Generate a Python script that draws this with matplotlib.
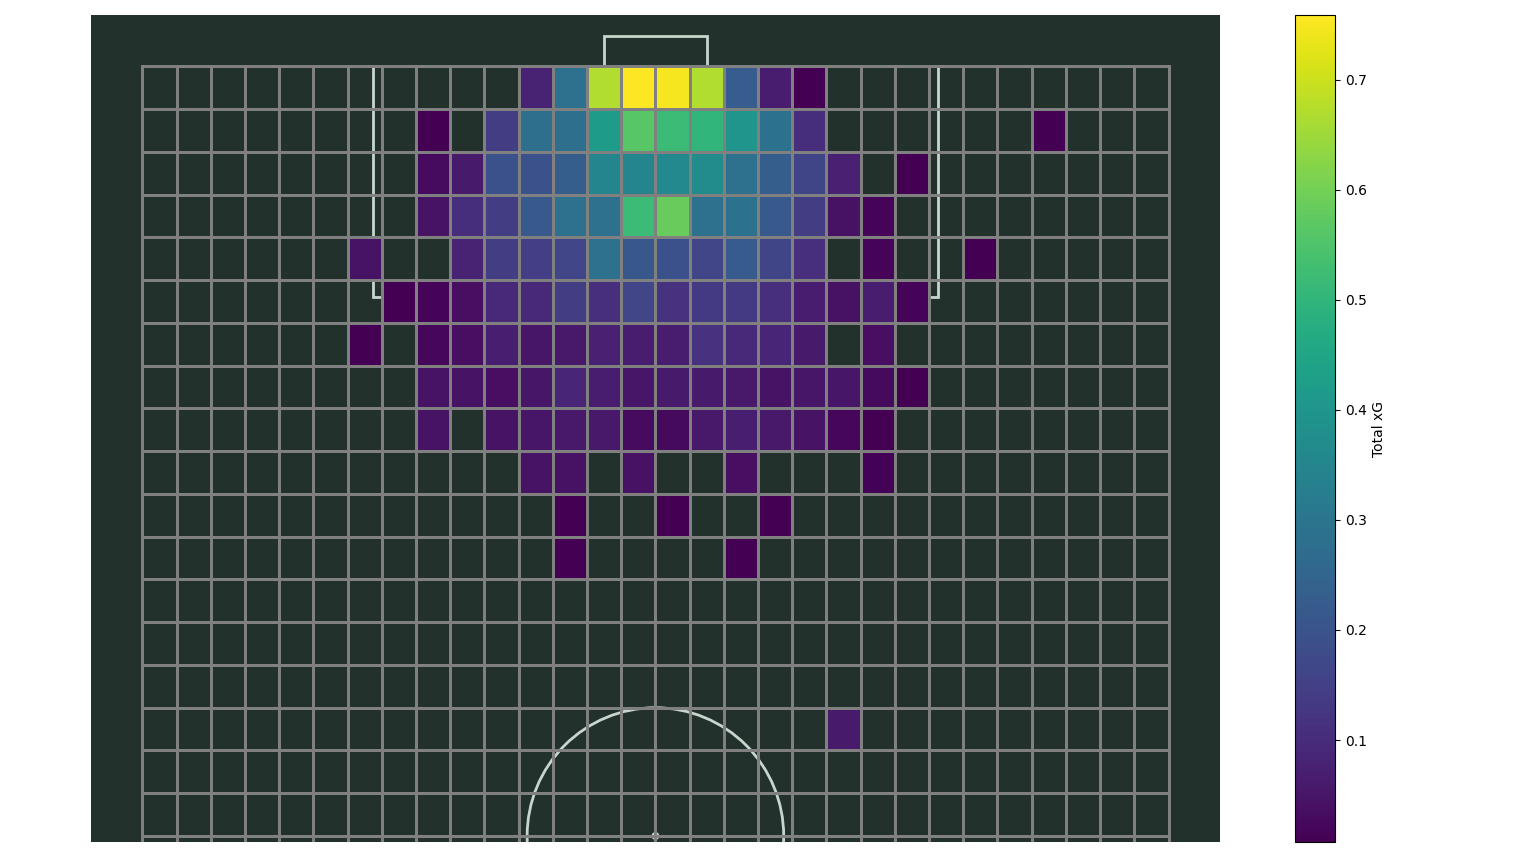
import numpy as np
import matplotlib.pyplot as plt
from matplotlib.patches import Rectangle, Circle, Arc

# Celdas con xG (fila 0 = junto a la porteria, columna 0 = banda izquierda)
cell_row = [0, 0, 0, 0, 0, 0, 0, 0, 0,
            1, 1, 1, 1, 1, 1, 1, 1, 1, 1, 1, 1,
            2, 2, 2, 2, 2, 2, 2, 2, 2, 2, 2, 2, 2, 2,
            3, 3, 3, 3, 3, 3, 3, 3, 3, 3, 3, 3, 3, 3,
            4, 4, 4, 4, 4, 4, 4, 4, 4, 4, 4, 4, 4, 4,
            5, 5, 5, 5, 5, 5, 5, 5, 5, 5, 5, 5, 5, 5, 5, 5,
            6, 6, 6, 6, 6, 6, 6, 6, 6, 6, 6, 6, 6, 6,
            7, 7, 7, 7, 7, 7, 7, 7, 7, 7, 7, 7, 7, 7, 7,
            8, 8, 8, 8, 8, 8, 8, 8, 8, 8, 8, 8, 8,
            9, 9, 9, 9, 9,
            10, 10, 10,
            11, 11,
            15]
cell_col = [11, 12, 13, 14, 15, 16, 17, 18, 19,
            8, 10, 11, 12, 13, 14, 15, 16, 17, 18, 19, 26,
            8, 9, 10, 11, 12, 13, 14, 15, 16, 17, 18, 19, 20, 22,
            8, 9, 10, 11, 12, 13, 14, 15, 16, 17, 18, 19, 20, 21,
            6, 9, 10, 11, 12, 13, 14, 15, 16, 17, 18, 19, 21, 24,
            7, 8, 9, 10, 11, 12, 13, 14, 15, 16, 17, 18, 19, 20, 21, 22,
            6, 8, 9, 10, 11, 12, 13, 14, 15, 16, 17, 18, 19, 21,
            8, 9, 10, 11, 12, 13, 14, 15, 16, 17, 18, 19, 20, 21, 22,
            8, 10, 11, 12, 13, 14, 15, 16, 17, 18, 19, 20, 21,
            11, 12, 14, 17, 21,
            12, 15, 18,
            12, 17,
            20]
cell_xg = [0.08, 0.285, 0.67, 0.759, 0.75, 0.67, 0.225, 0.065, 0.01,
           0.01, 0.14, 0.28, 0.28, 0.42, 0.56, 0.52, 0.50, 0.40, 0.29, 0.105, 0.01,
           0.03, 0.06, 0.195, 0.195, 0.23, 0.35, 0.35, 0.36, 0.37, 0.285, 0.23, 0.16, 0.075, 0.01,
           0.045, 0.105, 0.14, 0.215, 0.285, 0.285, 0.52, 0.585, 0.285, 0.29, 0.215, 0.14, 0.04, 0.015,
           0.045, 0.08, 0.14, 0.145, 0.165, 0.285, 0.21, 0.195, 0.165, 0.22, 0.16, 0.11, 0.015, 0.01,
           0.01, 0.015, 0.035, 0.095, 0.095, 0.14, 0.11, 0.165, 0.115, 0.135, 0.135, 0.11, 0.065, 0.04, 0.065, 0.015,
           0.0073, 0.02, 0.035, 0.07, 0.05, 0.055, 0.075, 0.065, 0.065, 0.115, 0.09, 0.085, 0.06, 0.035,
           0.045, 0.045, 0.035, 0.05, 0.085, 0.065, 0.05, 0.06, 0.06, 0.055, 0.045, 0.05, 0.05, 0.025, 0.01,
           0.045, 0.045, 0.05, 0.055, 0.055, 0.03, 0.025, 0.055, 0.07, 0.055, 0.045, 0.02, 0.01,
           0.045, 0.04, 0.04, 0.035, 0.012,
           0.01, 0.01, 0.01,
           0.01, 0.01,
           0.06]

# Campo tipo StatsBomb (120 x 80), 36 x 30 celdas
PITCH_LEN, PITCH_WID = 120, 80
N_ROWS, N_COLS = 36, 30
BG = '#22312b'
LINE = '#c7d5cc'


def draw_half_pitch(ax):
    kw = dict(fill=False, edgecolor=LINE, linewidth=2, zorder=1)
    # Areas y porteria
    ax.add_patch(Rectangle((18, 102), 44, 18, **kw))
    ax.add_patch(Rectangle((30, 114), 20, 6, **kw))
    ax.add_patch(Rectangle((36, 120), 8, 2.4, **kw))
    ax.add_patch(Arc((40, 108), 20, 20, theta1=216.87, theta2=323.13,
                     color=LINE, linewidth=2, zorder=1))
    ax.add_patch(Circle((40, 108), 0.3, color=LINE, zorder=1))
    # Circulo central
    ax.add_patch(Circle((40, 60), 10, **kw))
    ax.add_patch(Circle((40, 60), 0.25, color=LINE, zorder=1))


fig = plt.figure(figsize=(15.36, 8.57), dpi=100)
ax = fig.add_axes([0.0592, 0.0175, 0.735, 0.965])
ax.set_facecolor(BG)

draw_half_pitch(ax)

# Matriz del heatmap
xg = np.full((N_ROWS, N_COLS), np.nan)
for r, c, v in zip(cell_row, cell_col, cell_xg):
    xg[N_ROWS - 1 - r, c] = v
x_edges = np.linspace(0, PITCH_WID, N_COLS + 1)
y_edges = np.linspace(0, PITCH_LEN, N_ROWS + 1)

cmap = plt.get_cmap('viridis').copy()
cmap.set_bad((0, 0, 0, 0))
mesh = ax.pcolormesh(x_edges, y_edges, np.ma.masked_invalid(xg), cmap=cmap,
                     edgecolors='grey', linewidth=2, zorder=2)

ax.set_xlim(-4, 84)
ax.set_ylim(59.53, 124)
ax.set_aspect('equal')
ax.axis('off')
ax.add_patch(Rectangle((0, 0), 1, 1, transform=ax.transAxes,
                       facecolor=BG, zorder=0))

cax = fig.add_axes([0.8431, 0.0175, 0.026, 0.965])
cbar = fig.colorbar(mesh, cax=cax)
cbar.set_label('Total xG')

fig.savefig('out.png', dpi=100)
